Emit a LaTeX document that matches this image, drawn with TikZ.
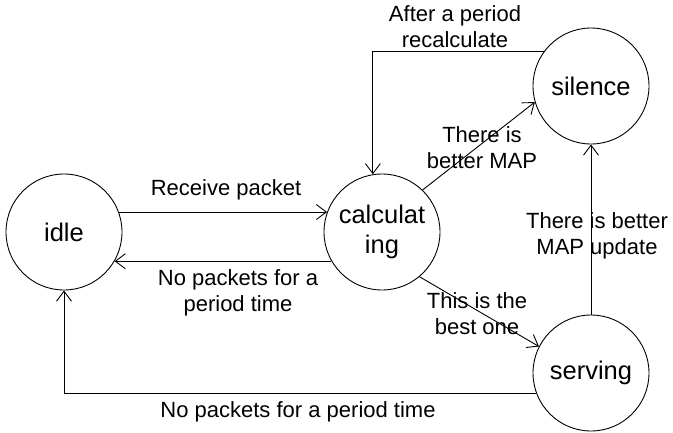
\documentclass[tikz,border=0pt]{standalone}
\usepackage{fontspec}
\setmainfont{Liberation Sans}
\usetikzlibrary{arrows.meta}
\begin{document}
\begin{tikzpicture}[x=1pt,y=-1pt,
  state/.style={draw,circle,minimum size=116pt,inner sep=0pt,line width=0.9pt,font=\fontsize{25.5}{30}\selectfont,align=center},
  lbl/.style={font=\fontsize{22}{26}\selectfont,align=center,inner sep=0pt},
  conn/.style={line width=0.9pt,-{Straight Barb[length=10pt,width=15pt]}}]
\useasboundingbox (0,0) rectangle (673,432);
\node[state] (idle) at (64,232) {idle};
\node[state] (calc) at (382,232) {calculat\\ing};
\node[state] (silence) at (591,86) {silence};
\node[state] (serving) at (591,373) {serving};

\draw[conn] (idle.20) -- (calc.160);
\draw[conn] (calc.-150) -- (idle.-30);
\draw[conn] (silence.144) -| (calc.99);
\draw[conn] (calc.46) -- (silence.196);
\draw[conn] (calc.-50) -- (serving.153);
\draw[conn] (serving.north) -- (silence.south);
\draw[conn] (serving.200) -| (idle.south);

\node[lbl] (l1) at (455,27) {After a period\\recalculate};
\node[lbl] (l2) at (482,148) {There is\\better MAP};
\node[lbl] (l3) at (226,190) {Receive packet};
\node[lbl] (l4) at (238,293) {No packets for a\\period time};
\node[lbl] (l5) at (477,314) {This is the\\best one};
\node[lbl] (l6) at (597,236) {There is better\\MAP update};
\node[lbl] (l7) at (298,412) {No packets for a period time};
\end{tikzpicture}
\end{document}
